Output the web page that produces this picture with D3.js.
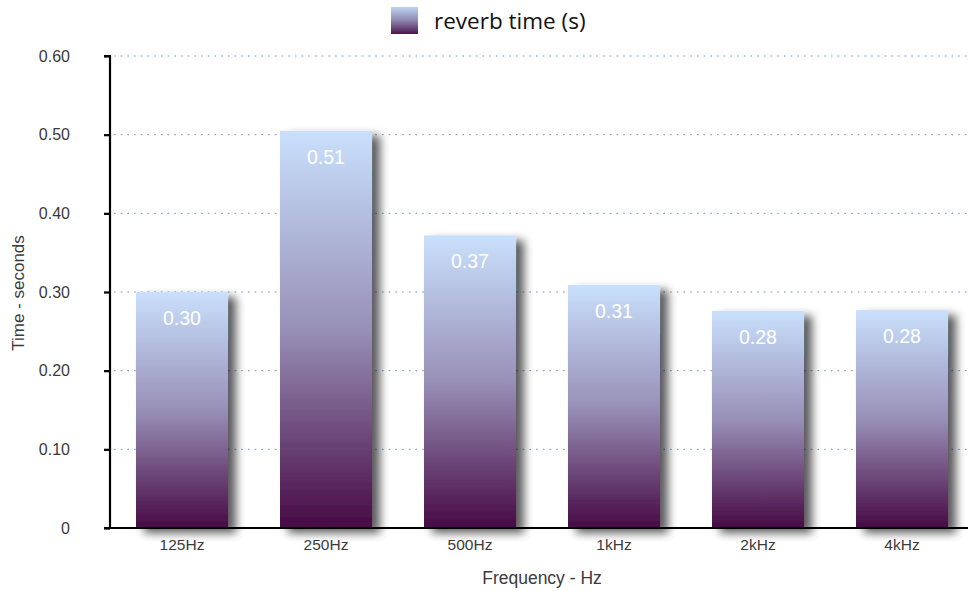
<!DOCTYPE html>
<html>
<head>
<meta charset="utf-8">
<script src="https://cdn.jsdelivr.net/npm/d3@7"></script>
<style>
  html, body { margin: 0; padding: 0; background: #fff; }
  svg { display: block; }
</style>
</head>
<body>
<svg id="chart" width="968" height="591"></svg>
<script>
// Reverberation time per octave band
const categories = ["125Hz", "250Hz", "500Hz", "1kHz", "2kHz", "4kHz"];
const reverbTime = [0.30, 0.505, 0.372, 0.309, 0.276, 0.277];
const yTicks = [0, 0.10, 0.20, 0.30, 0.40, 0.50, 0.60];
const seriesName = "reverb time (s)";
const xTitle = "Frequency - Hz";
const yTitle = "Time - seconds";

const W = 968, H = 591;
const plot = { left: 110, right: 974, top: 56, bottom: 528 };
const sans = "'Liberation Sans', Arial, Helvetica, sans-serif";

const svg = d3.select("#chart");
const defs = svg.append("defs");

const grad = defs.append("linearGradient")
  .attr("id", "barGrad").attr("x1", 0).attr("y1", 0).attr("x2", 0).attr("y2", 1);
grad.append("stop").attr("offset", "0%").attr("stop-color", "#c9e0fc");
grad.append("stop").attr("offset", "50%").attr("stop-color", "#9890b6");
grad.append("stop").attr("offset", "100%").attr("stop-color", "#470a45");

const legGrad = defs.append("linearGradient")
  .attr("id", "legGrad").attr("x1", 0).attr("y1", 0).attr("x2", 0).attr("y2", 1);
legGrad.append("stop").attr("offset", "0%").attr("stop-color", "#c0d4f2");
legGrad.append("stop").attr("offset", "50%").attr("stop-color", "#8e86ae");
legGrad.append("stop").attr("offset", "100%").attr("stop-color", "#4c1450");

const shadow = defs.append("filter").attr("id", "barShadow")
  .attr("x", "-20%").attr("y", "-10%").attr("width", "160%").attr("height", "130%");
shadow.append("feGaussianBlur").attr("in", "SourceAlpha").attr("stdDeviation", 5).attr("result", "blur");
shadow.append("feOffset").attr("in", "blur").attr("dx", 8).attr("dy", 5).attr("result", "off");
shadow.append("feComponentTransfer").attr("in", "off").attr("result", "sh")
  .append("feFuncA").attr("type", "linear").attr("slope", 0.65);
const merge = shadow.append("feMerge");
merge.append("feMergeNode").attr("in", "sh");
merge.append("feMergeNode").attr("in", "SourceGraphic");

const x = d3.scaleBand()
  .domain(categories)
  .range([plot.left, plot.right])
  .paddingInner(0.361)
  .paddingOuter(0.1805);

const y = d3.scaleLinear().domain([0, 0.6]).range([plot.bottom, plot.top]);

// dotted gridlines
svg.append("g").selectAll("line")
  .data(yTicks.filter(d => d > 0))
  .join("line")
  .attr("x1", plot.left + 4).attr("x2", W)
  .attr("y1", d => y(d)).attr("y2", d => y(d))
  .attr("stroke", "#6f90c2")
  .attr("stroke-width", 1)
  .attr("stroke-dasharray", "1.6,5.1");

// bars
const data = categories.map((c, i) => ({ cat: c, v: reverbTime[i] }));
svg.append("g").selectAll("rect")
  .data(data)
  .join("rect")
  .attr("x", d => x(d.cat))
  .attr("y", d => y(d.v))
  .attr("width", x.bandwidth())
  .attr("height", d => y(0) - y(d.v))
  .attr("fill", "url(#barGrad)")
  .attr("filter", "url(#barShadow)");

// value labels
const fmt = d3.format(".2f");
svg.append("g").selectAll("text")
  .data(data)
  .join("text")
  .attr("x", d => x(d.cat) + x.bandwidth() / 2)
  .attr("y", d => y(d.v) + 26)
  .attr("dy", "0.35em")
  .attr("text-anchor", "middle")
  .attr("fill", "#ffffff")
  .style("font-family", sans)
  .style("font-size", "19.5px")
  .text(d => fmt(d.v));

// y axis
const yAxis = d3.axisLeft(y)
  .tickValues(yTicks)
  .tickFormat(d => d === 0 ? "0" : d3.format(".2f")(d))
  .tickSize(6)
  .tickPadding(34);
const gy = svg.append("g").attr("transform", `translate(${plot.left},0)`).call(yAxis);
gy.select(".domain").attr("stroke", "#000").attr("stroke-width", 2.2)
  .attr("d", `M-6,${plot.top}H0V${plot.bottom}`);
gy.selectAll(".tick line").attr("stroke", "#000").attr("stroke-width", 2.2);
gy.selectAll(".tick text")
  .attr("fill", "#3a3a3a")
  .style("font-family", sans)
  .style("font-size", "16px");

// x axis
const xAxis = d3.axisBottom(x).tickSize(0).tickPadding(11);
const gx = svg.append("g").attr("transform", `translate(0,${plot.bottom})`).call(xAxis);
gx.select(".domain").attr("stroke", "#000").attr("stroke-width", 2.2)
  .attr("d", `M${plot.left - 6},0H${W}`);
gx.selectAll(".tick text")
  .attr("fill", "#3a3a3a")
  .style("font-family", sans)
  .style("font-size", "15.5px");

// axis titles
svg.append("text")
  .attr("x", 542).attr("y", 578)
  .attr("dy", "0.35em")
  .attr("text-anchor", "middle")
  .attr("fill", "#3a3a3a")
  .style("font-family", sans)
  .style("font-size", "17.5px")
  .text(xTitle);

svg.append("text")
  .attr("transform", "translate(18,293) rotate(-90)")
  .attr("dy", "0.35em")
  .attr("text-anchor", "middle")
  .attr("fill", "#3a3a3a")
  .style("font-family", sans)
  .style("font-size", "17px")
  .text(yTitle);

// legend
const leg = svg.append("g");
leg.append("rect")
  .attr("x", 391).attr("y", 7).attr("width", 27).attr("height", 27)
  .attr("fill", "url(#legGrad)");
leg.append("text")
  .attr("x", 434).attr("y", 21)
  .attr("dy", "0.35em")
  .attr("fill", "#111")
  .style("font-family", "'Open Sans', sans-serif")
  .style("font-size", "22.5px")
  .text(seriesName);
</script>
</body>
</html>
